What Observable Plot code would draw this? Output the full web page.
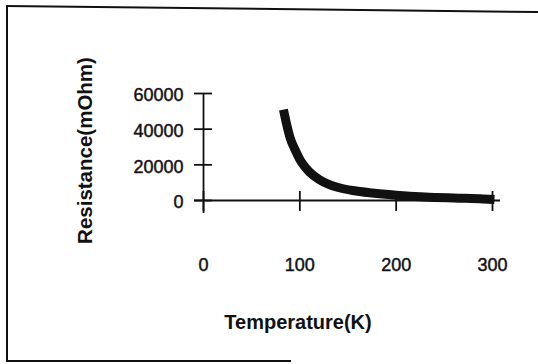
<!DOCTYPE html>
<html>
<head>
<meta charset="utf-8">
<script src="https://cdn.jsdelivr.net/npm/d3@7"></script>
<script src="https://cdn.jsdelivr.net/npm/@observablehq/plot@0.6"></script>
<style>
  html, body { margin: 0; padding: 0; background: #fff; }
  #wrap { position: relative; width: 538px; height: 364px; overflow: hidden; }
  #wrap svg { position: absolute; left: 0; top: 0; }
  #wrap svg g[aria-label$="tick label"] text { stroke: #111; stroke-width: 0.45px; }
  .edge { position: absolute; background: #111; }
</style>
</head>
<body>
<div id="wrap">
  <div class="edge" style="left:6px; top:5px; width:2px; height:357px;"></div>
  <div class="edge" style="left:6px; top:5px; width:540px; height:2px; transform-origin:0 0; transform:rotate(0.65deg);"></div>
  <div class="edge" style="left:6px; top:360px; width:285px; height:2px;"></div>
</div>
<script>
// Resistance vs temperature readings
const temperatureK = [83, 86, 90, 95, 100, 105, 110, 120, 130, 140, 155, 175, 200, 230, 260, 290, 302];
const resistanceMOhm = [51000, 43500, 35000, 28500, 23000, 19000, 16000, 11800, 9000, 7300, 5600, 4200, 3000, 2000, 1400, 900, 600];

const xTicks = [0, 100, 200, 300];
const yTicks = [0, 20000, 40000, 60000];

const xTitle = "Temperature(K)";
const yTitle = "Resistance(mOhm)";

const data = temperatureK.map((t, i) => ({t, r: resistanceMOhm[i]}));

const chart = Plot.plot({
  width: 538,
  height: 364,
  marginLeft: 203,
  marginRight: 46,
  marginTop: 93,
  marginBottom: 164,
  style: {fontFamily: "'Liberation Sans', Arial, sans-serif", background: "transparent", color: "#111"},
  x: {domain: [0, 300], ticks: xTicks},
  y: {domain: [0, 60000], ticks: yTicks},
  marks: [
    // axis lines, running a little past the origin
    Plot.ruleY([0], {stroke: "#111", strokeWidth: 1.8, insetLeft: -9, insetRight: -8}),
    Plot.ruleX([0], {stroke: "#111", strokeWidth: 1.8, insetBottom: -13}),
    // tick marks crossing the axes
    Plot.ruleX(xTicks, {stroke: "#111", strokeWidth: 1.8, insetTop: 98, insetBottom: -11}),
    Plot.ruleY(yTicks, {stroke: "#111", strokeWidth: 1.8, insetLeft: -9, insetRight: 280}),
    // tick labels
    Plot.axisX(xTicks, {tickSize: 0, tickPadding: 58, fontSize: 18, label: null}),
    Plot.axisY(yTicks, {tickSize: 0, tickPadding: 20, fontSize: 18, dy: 2, label: null, tickFormat: d => String(d)}),
    // axis titles
    Plot.text([xTitle], {frameAnchor: "bottom", text: d => d, dx: -50, dy: 121.6, fontSize: 20, fontWeight: "bold", textAnchor: "middle", lineAnchor: "middle", fill: "#111"}),
    Plot.text([yTitle], {frameAnchor: "left", text: d => d, dx: -117.7, dy: 3.5, rotate: -90, fontSize: 20.5, fontWeight: "bold", textAnchor: "middle", lineAnchor: "middle", fill: "#111"}),
    // resistance curve
    Plot.line(data, {x: "t", y: "r", stroke: "#111", strokeWidth: 9, curve: "monotone-x", strokeLinecap: "butt"})
  ]
});

document.getElementById("wrap").prepend(chart);
</script>
</body>
</html>
